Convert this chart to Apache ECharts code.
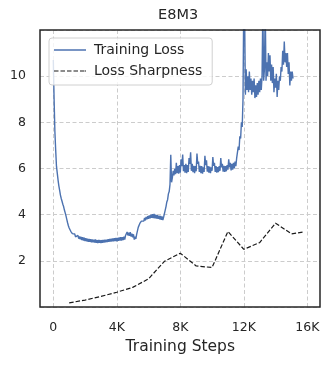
<!DOCTYPE html>
<html>
<head>
<meta charset="utf-8">
<script src="https://cdn.jsdelivr.net/npm/echarts@6/dist/echarts.min.js"></script>
<style>
  html, body { margin: 0; padding: 0; background: #fff; }
  #chart { width: 330px; height: 365px; }
</style>
</head>
<body>
<div id="chart"></div>
<script>
// training loss, one reading every 50 steps from step 0
const lossStepSize = 50
const lossValues = [
  10.7, 9.0, 7.6, 6.8, 6.1, 5.8, 5.5, 5.25, 5.05, 4.85,
  4.7, 4.58, 4.45, 4.35, 4.2, 4.08, 3.95, 3.8, 3.65, 3.52,
  3.42, 3.38, 3.28, 3.3, 3.18, 3.22, 3.1, 3.16, 3.04, 3.12,
  3.0, 3.1, 2.96, 3.06, 2.93, 3.04, 2.9, 3.02, 2.88, 3.0,
  2.86, 2.98, 2.85, 2.96, 2.82, 2.95, 2.82, 2.94, 2.8, 2.93,
  2.8, 2.92, 2.79, 2.93, 2.78, 2.9, 2.77, 2.91, 2.78, 2.9,
  2.77, 2.9, 2.78, 2.91, 2.79, 2.92, 2.8, 2.92, 2.81, 2.94,
  2.82, 2.95, 2.83, 2.96, 2.84, 2.97, 2.85, 2.98, 2.86, 2.99,
  2.85, 2.99, 2.87, 3.01, 2.88, 3.02, 2.88, 3.03, 2.9, 3.05,
  2.92, 3.1, 3.12, 3.25, 3.1, 3.22, 3.08, 3.24, 3.05, 3.18,
  3.02, 3.15, 2.92, 3.05, 2.95, 3.15, 3.3, 3.45, 3.5, 3.62,
  3.58, 3.72, 3.66, 3.8, 3.72, 3.86, 3.75, 3.9, 3.8, 3.94,
  3.82, 3.97, 3.84, 4.0, 3.86, 4.02, 3.85, 4.03, 3.84, 4.0,
  3.83, 3.98, 3.82, 3.96, 3.8, 3.95, 3.78, 3.93, 3.76, 3.9,
  3.95, 4.2, 4.35, 4.55, 4.65, 4.9, 5.0, 5.3, 6.6, 5.4,
  5.6, 5.9, 5.7, 6.0, 5.75, 6.25, 5.8, 6.1, 5.78, 6.15,
  5.82, 6.4, 6.1, 6.6, 5.88, 6.15, 5.82, 6.2, 5.8, 6.15,
  5.85, 6.45, 6.2, 6.7, 5.9, 6.2, 5.84, 6.12, 5.8, 6.1,
  5.88, 6.65, 6.2, 6.3, 5.85, 6.12, 5.8, 6.1, 5.78, 6.05,
  5.85, 6.55, 6.15, 6.35, 5.86, 6.1, 5.82, 6.08, 5.8, 6.05,
  5.9, 6.5, 6.12, 6.25, 5.85, 6.1, 5.82, 6.06, 5.84, 6.1,
  5.9, 6.45, 6.05, 6.2, 5.86, 6.12, 5.85, 6.1, 5.88, 6.15,
  5.95, 6.4, 6.05, 6.25, 5.92, 6.2, 5.95, 6.25, 6.0, 6.3,
  6.1, 6.45, 6.5, 6.95, 6.8, 7.4, 7.3, 8.0, 7.8, 9.0,
  13.5, 12.8, 9.2, 10.3, 9.4, 10.0, 9.3, 10.2, 9.4, 9.9,
  9.2, 9.8, 9.3, 9.9, 9.05, 9.6, 9.1, 9.7, 9.2, 9.8,
  9.3, 9.9, 9.4, 10.0, 13.0, 9.8, 10.3, 13.0, 9.8, 10.6,
  10.0, 11.0, 10.2, 10.9, 9.8, 10.5, 9.7, 10.4, 9.3, 9.9,
  9.5, 10.1, 9.1, 9.8, 9.4, 10.0, 9.8, 10.4, 10.2, 11.1,
  10.5, 11.5, 10.6, 11.0, 10.4, 11.0, 10.1, 10.6, 9.6, 10.2,
  9.8, 10.2, 9.9
]

const sharpSteps = [1000, 2000, 3000, 4000, 5000, 6000, 7000, 8000, 9000, 10000, 11000, 12000, 13000, 14000, 15000, 15800]
const sharpValues = [0.18, 0.3, 0.46, 0.64, 0.85, 1.22, 1.98, 2.33, 1.78, 1.71, 3.27, 2.5, 2.79, 3.63, 3.17, 3.25]

const xTicks = [0, 4000, 8000, 12000, 16000]
const yTicks = [2, 4, 6, 8, 10]

const font = 'DejaVu Sans'
const ink = '#262626'
const blue = '#4c72b0'
const black = '#1a1a1a'

// legend icons drawn as plain line samples (solid / dashed)
const solidIcon = 'path://M0,0H32V1.5H0Z'
const dashIcon = 'path://M0,0H4.5V1.2H0Z M6.5,0H11V1.2H6.5Z M13,0H17.5V1.2H13Z M19.5,0H24V1.2H19.5Z M26,0H30.5V1.2H26Z M31,0H32V1.2H31Z'

const chart = echarts.init(document.getElementById('chart'), null, { renderer: 'canvas' })

chart.setOption({
  backgroundColor: '#fff',
  animation: false,
  title: {
    text: 'E8M3',
    left: 158,
    top: 8,
    padding: 0,
    textStyle: { fontFamily: font, fontSize: 14.5, fontWeight: 'normal', color: ink }
  },
  legend: {
    orient: 'vertical',
    left: 49,
    top: 38,
    padding: [5, 10, 7, 5],
    itemWidth: 32,
    itemHeight: 14,
    itemGap: 7,
    symbolKeepAspect: true,
    backgroundColor: 'rgba(255,255,255,0.8)',
    borderColor: '#d0d0d0',
    borderWidth: 1,
    borderRadius: 3,
    textStyle: { fontFamily: font, fontSize: 14, color: ink, padding: [0, 0, 0, 3] },
    data: [
      { name: 'Training Loss', icon: solidIcon, itemStyle: { color: blue } },
      { name: 'Loss Sharpness', icon: dashIcon, itemStyle: { color: black } }
    ]
  },
  // grid 0 is the full frame (y gridlines), grid 1 the 0..16K data span
  grid: [
    { left: 40, right: 10, top: 30, bottom: 58 },
    { left: 53.3, right: 22.7, top: 30, bottom: 58 }
  ],
  xAxis: [
    { gridIndex: 0, type: 'value', min: 0, max: 1, show: false },
    {
      gridIndex: 1,
      type: 'value',
      min: 0,
      max: 16000,
      interval: 4000,
      name: 'Training Steps',
      nameLocation: 'middle',
      nameGap: 30,
      nameTextStyle: { fontFamily: font, fontSize: 15.5, color: ink },
      axisLine: { show: false },
      axisTick: { show: false },
      axisLabel: {
        margin: 14,
        fontFamily: font,
        fontSize: 12.5,
        color: ink,
        formatter: v => xTicks.includes(v) ? (v === 0 ? '0' : v / 1000 + 'K') : ''
      },
      splitLine: { show: true, lineStyle: { color: '#cccccc', width: 1, type: [4, 2.5] } }
    }
  ],
  yAxis: [
    {
      gridIndex: 0,
      type: 'value',
      min: 0,
      max: 12,
      interval: 2,
      axisLine: { show: false },
      axisTick: { show: false },
      axisLabel: {
        margin: 14,
        fontFamily: font,
        fontSize: 12.5,
        color: ink,
        formatter: v => yTicks.includes(v) ? String(v) : ''
      },
      splitLine: { show: true, lineStyle: { color: '#cccccc', width: 1, type: [4, 2.5] } }
    },
    { gridIndex: 1, type: 'value', min: 0, max: 12, show: false }
  ],
  graphic: [{
    type: 'rect',
    z: 100,
    shape: { x: 40, y: 30, width: 280, height: 277 },
    style: { fill: 'none', stroke: ink, lineWidth: 1.5 },
    silent: true
  }],
  series: [
    {
      name: 'Training Loss',
      type: 'line',
      xAxisIndex: 1,
      yAxisIndex: 1,
      showSymbol: false,
      symbol: 'none',
      clip: true,
      data: lossValues.map((v, i) => [i * lossStepSize, v]),
      color: blue,
      lineStyle: { color: blue, width: 1.4 }
    },
    {
      name: 'Loss Sharpness',
      type: 'line',
      xAxisIndex: 1,
      yAxisIndex: 1,
      showSymbol: false,
      symbol: 'none',
      clip: true,
      data: sharpSteps.map((s, i) => [s, sharpValues[i]]),
      color: black,
      lineStyle: { color: black, width: 1.2, type: [4.5, 2] }
    }
  ]
})
</script>
</body>
</html>
